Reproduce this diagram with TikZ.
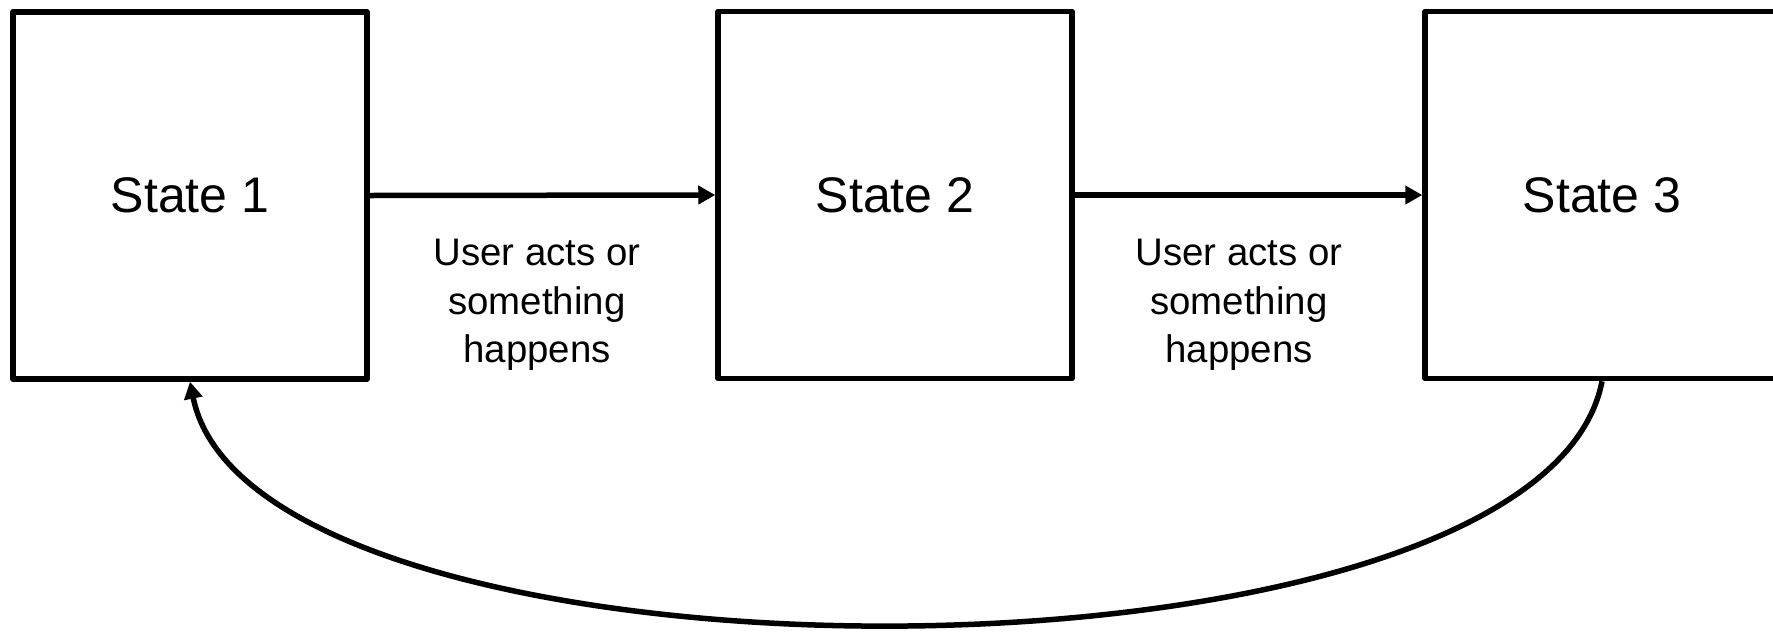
\documentclass[tikz,border=0pt]{standalone}
\usepackage{fontspec}
\setmainfont{Liberation Sans}
\usetikzlibrary{arrows.meta}

\tikzset{
  statebox/.style={draw=black, line width=2.75pt, line join=round,
    minimum width=177pt, minimum height=183.5pt, inner sep=0pt,
    font=\fontsize{25}{30}\selectfont},
  eventlabel/.style={align=center, inner sep=0pt,
    font=\fontsize{19.2}{24.25}\selectfont},
  flow/.style={line width=2.75pt,
    -{Triangle[length=8.5pt,width=9pt]}},
}

\begin{document}
\begin{tikzpicture}[x=0.5pt, y=-0.5pt]
  \useasboundingbox (0,0) rectangle (1773,633);
  \clip (0,0) rectangle (1773,633);

  % states
  \node[statebox] (s1) at (190,195.5) {State 1};
  \node[statebox] (s2) at (895,195)   {State 2};
  \node[statebox] (s3) at (1602,195)  {State 3};

  % transitions
  \draw[flow] (s1.east) -- (s2.west);
  \draw[flow] (s2.east) -- (s3.west);

  % return to the first state
  \draw[flow] (s3.south) .. controls (1540,705) and (255,705) .. (s1.south);

  % event descriptions
  \node[eventlabel] (e1) at (537,305)  {User acts or\\something\\happens};
  \node[eventlabel] (e2) at (1239,305) {User acts or\\something\\happens};
\end{tikzpicture}
\end{document}
